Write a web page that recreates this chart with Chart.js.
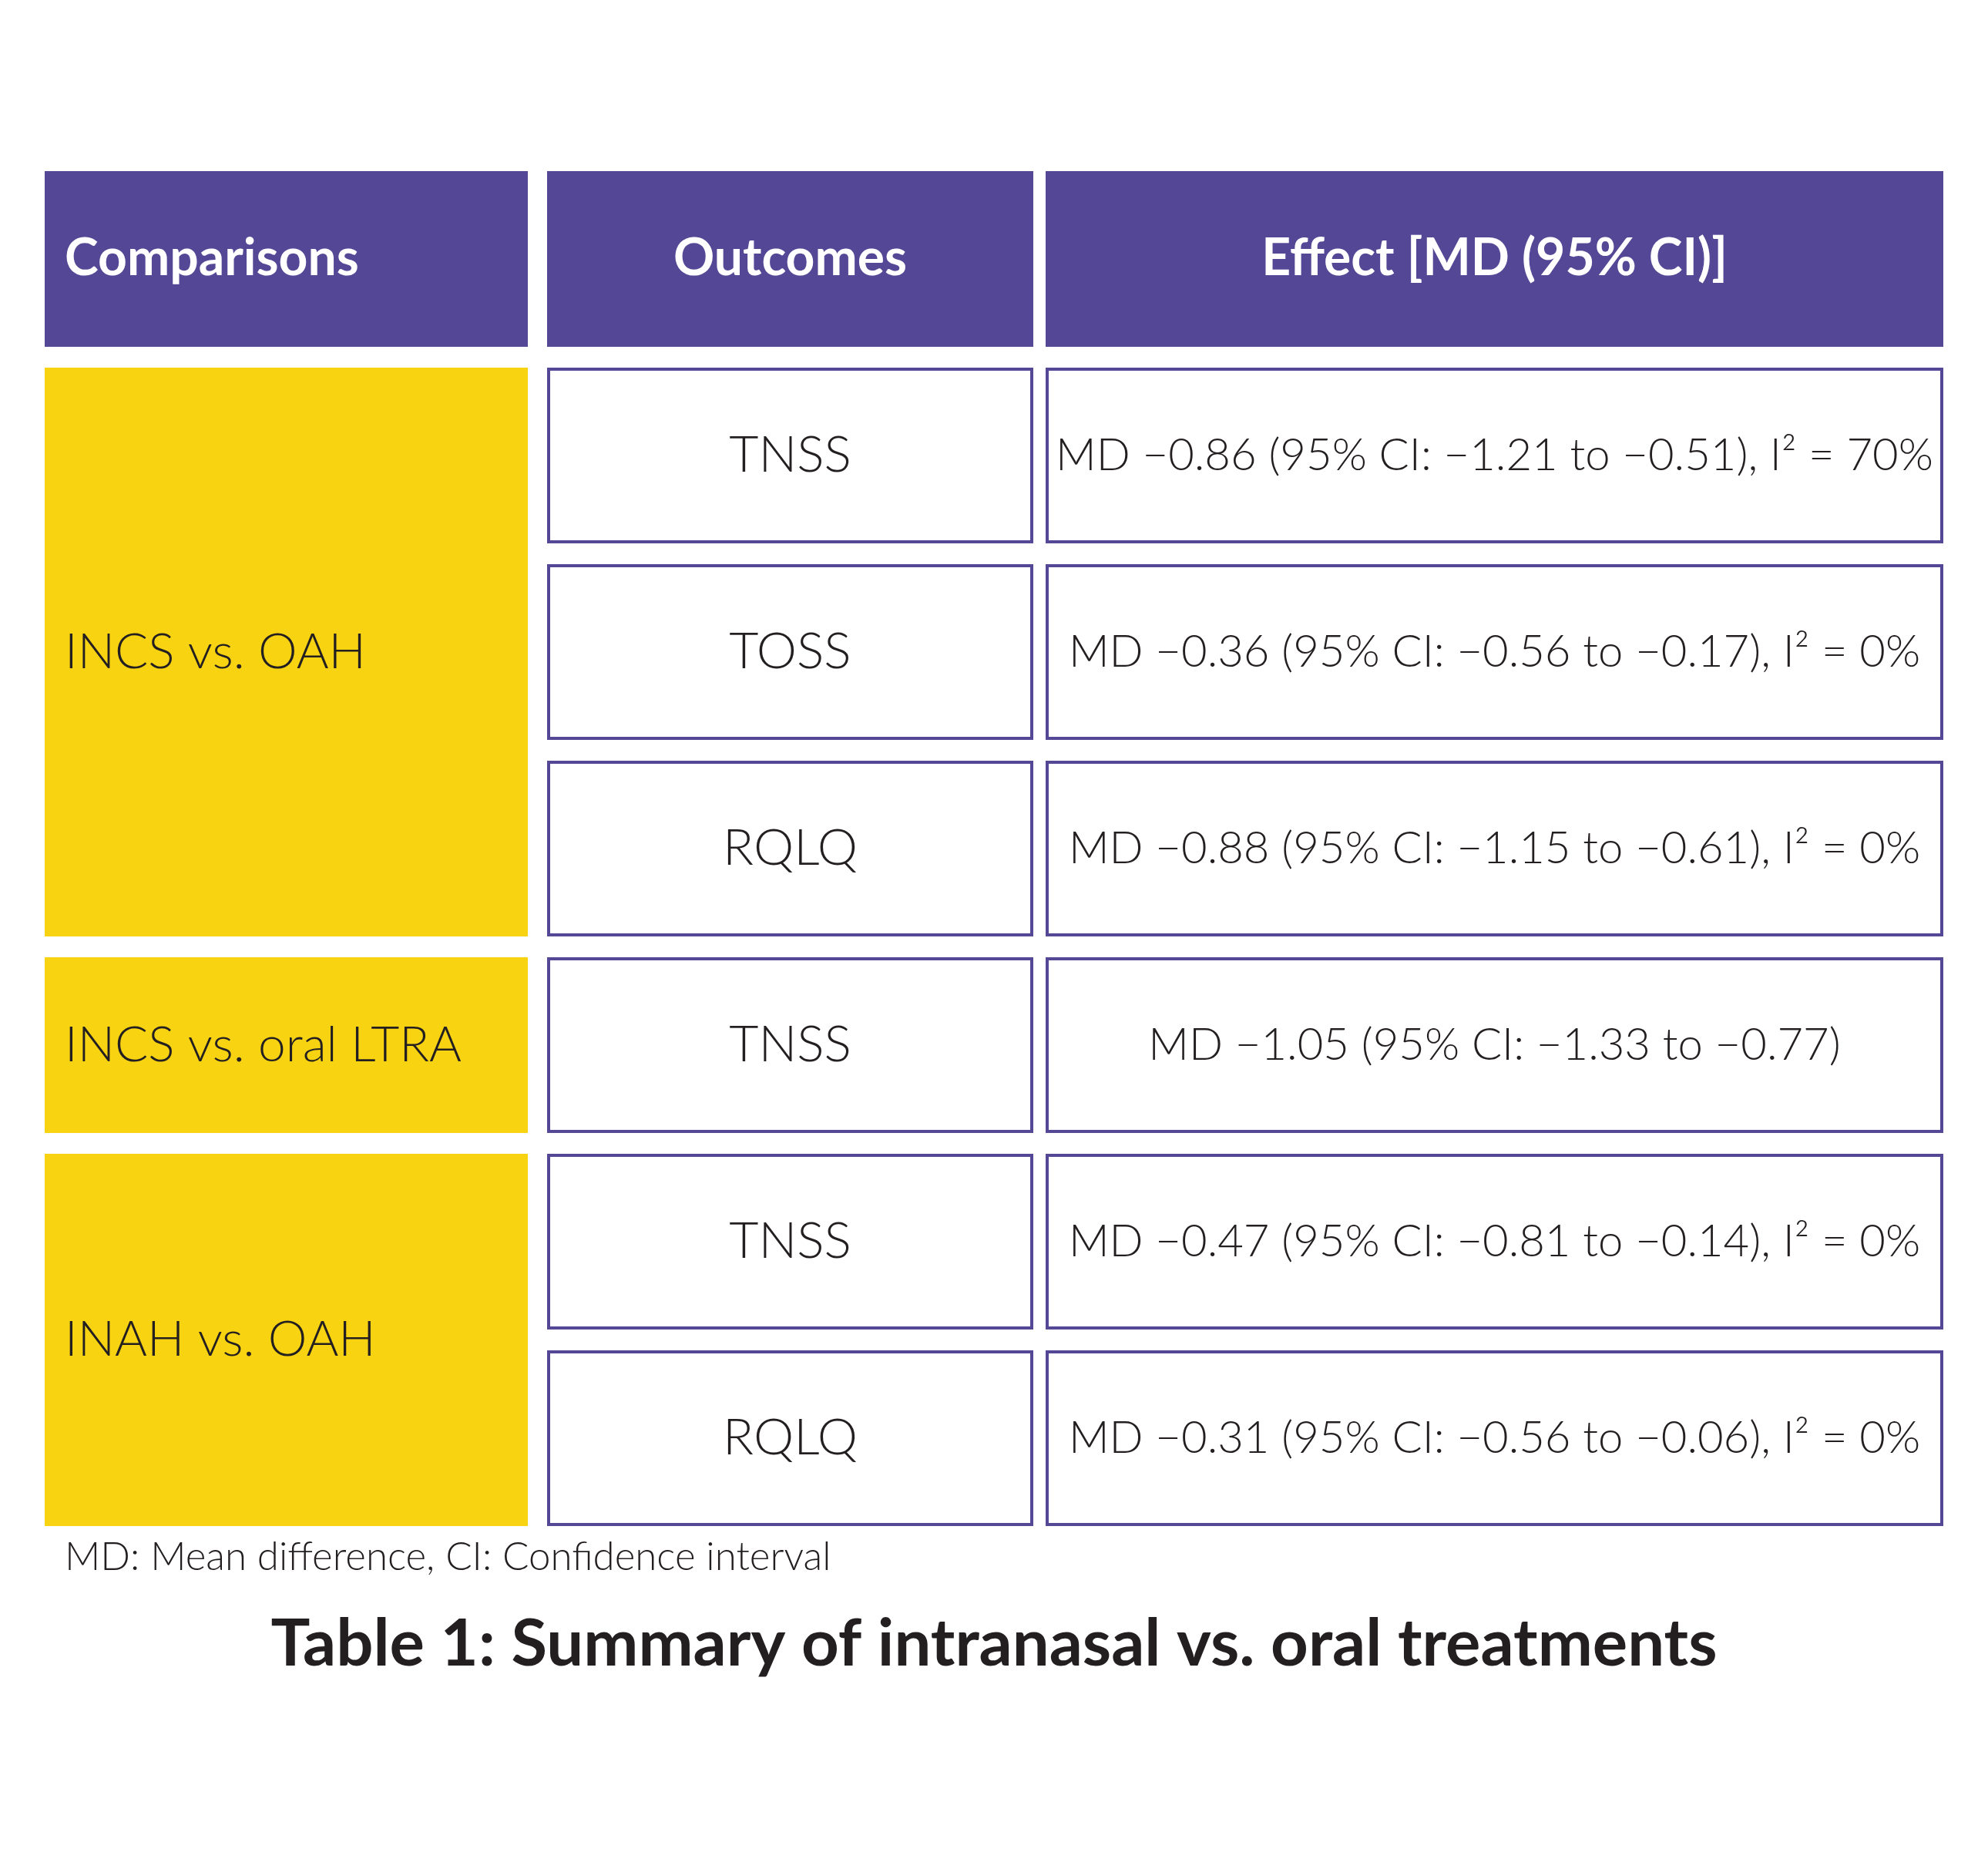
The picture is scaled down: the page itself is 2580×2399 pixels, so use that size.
<!DOCTYPE html>
<html>
<head>
<meta charset="utf-8">
<script src="https://cdn.jsdelivr.net/npm/chart.js@4.4.1/dist/chart.umd.min.js"></script>
<style>
  html, body { margin: 0; padding: 0; background: #ffffff; }
  #wrap { width: 2580px; height: 2399px; }
</style>
</head>
<body>
<div id="wrap"><canvas id="table-chart" width="2580" height="2399"></canvas></div>
<script>
// table content
const headers = ["Comparisons", "Outcomes", "Effect [MD (95% CI)]"];
const comparisons = ["INCS vs. OAH", "INCS vs. oral LTRA", "INAH vs. OAH"];
const comparisonRowSpans = [3, 1, 2];
const outcomes = ["TNSS", "TOSS", "RQLQ", "TNSS", "TNSS", "RQLQ"];
const effects = [
  "MD \u22120.86 (95% CI: \u22121.21 to \u22120.51), I\u00b2 = 70%",
  "MD \u22120.36 (95% CI: \u22120.56 to \u22120.17), I\u00b2 = 0%",
  "MD \u22120.88 (95% CI: \u22121.15 to \u22120.61), I\u00b2 = 0%",
  "MD \u22121.05 (95% CI: \u22121.33 to \u22120.77)",
  "MD \u22120.47 (95% CI: \u22120.81 to \u22120.14), I\u00b2 = 0%",
  "MD \u22120.31 (95% CI: \u22120.56 to \u22120.06), I\u00b2 = 0%",
];
const footnote = "MD: Mean difference, CI: Confidence interval";
const caption = "Table 1: Summary of intranasal vs. oral treatments";

// layout (in table units along the x scale, row units along the y scale)
const colSpans = [[0, 627], [652, 1283], [1299, 2464]];
const cellHeight = 0.894; // fraction of a row pitch
const PURPLE = "#544795";
const YELLOW = "#f8d312";
const TEXT = "#231f20";
const FONT = "Lato, 'Open Sans', sans-serif";

const tablePlugin = {
  id: "tablePlugin",
  afterDraw(chart) {
    const ctx = chart.ctx;
    const x = chart.scales.x;
    const y = chart.scales.y;
    const px = (v) => x.getPixelForValue(v);
    const py = (v) => y.getPixelForValue(v);

    ctx.save();
    ctx.textBaseline = "middle";

    // header row (row -1)
    headers.forEach(function (h, i) {
      let x0 = px(colSpans[i][0]), x1 = px(colSpans[i][1]);
      let y0 = py(-1), y1 = py(-1 + cellHeight);
      ctx.fillStyle = PURPLE;
      ctx.fillRect(x0, y0, x1 - x0, y1 - y0);
      ctx.fillStyle = "#ffffff";
      ctx.font = "bold 66px " + FONT;
      if (i == 0) {
        ctx.textAlign = "left";
        ctx.fillText(h, x0 + 26, (y0 + y1) / 2);
      } else {
        ctx.textAlign = "center";
        ctx.fillText(h, (x0 + x1) / 2, (y0 + y1) / 2);
      }
    });

    // comparison cells (merged rows)
    let row = 0;
    comparisons.forEach(function (c, i) {
      let span = comparisonRowSpans[i];
      let x0 = px(colSpans[0][0]), x1 = px(colSpans[0][1]);
      let y0 = py(row), y1 = py(row + span - 1 + cellHeight);
      ctx.fillStyle = YELLOW;
      ctx.fillRect(x0, y0, x1 - x0, y1 - y0);
      ctx.fillStyle = TEXT;
      ctx.font = "300 64px " + FONT;
      ctx.textAlign = "left";
      ctx.fillText(c, x0 + 26, (y0 + y1) / 2);
      row += span;
    });

    // outcome + effect cells
    outcomes.forEach(function (o, r) {
      [o, effects[r]].forEach(function (txt, k) {
        let span = colSpans[k + 1];
        let x0 = px(span[0]), x1 = px(span[1]);
        let y0 = py(r), y1 = py(r + cellHeight);
        ctx.fillStyle = "#ffffff";
        ctx.fillRect(x0, y0, x1 - x0, y1 - y0);
        ctx.strokeStyle = PURPLE;
        ctx.lineWidth = 4;
        ctx.strokeRect(x0 + 2, y0 + 2, x1 - x0 - 4, y1 - y0 - 4);
        ctx.fillStyle = TEXT;
        ctx.font = (k == 0 ? "300 66px " : "300 58px ") + FONT;
        ctx.textAlign = "center";
        ctx.fillText(txt, (x0 + x1) / 2, (y0 + y1) / 2);
      });
    });

    // footnote and caption
    let bottom = py(outcomes.length - 1 + cellHeight);
    ctx.textBaseline = "alphabetic";
    ctx.fillStyle = TEXT;
    ctx.font = "300 51px " + FONT;
    ctx.textAlign = "left";
    ctx.fillText(footnote, px(0) + 26, bottom + 57);
    ctx.font = "bold 85px " + FONT;
    ctx.textAlign = "center";
    ctx.fillText(caption, chart.width / 2, bottom + 181);
    ctx.restore();
  },
};

new Chart(document.getElementById("table-chart"), {
  type: "scatter",
  data: { datasets: [{ data: [], pointRadius: 0 }] },
  options: {
    responsive: false,
    animation: false,
    devicePixelRatio: 1,
    layout: { padding: { left: 58, right: 58, top: 222, bottom: 392 } },
    plugins: { legend: { display: false }, tooltip: { enabled: false } },
    scales: {
      x: { type: "linear", min: 0, max: 2464, display: false },
      y: { type: "linear", min: -1, max: 6, reverse: true, display: false },
    },
  },
  plugins: [tablePlugin],
});
</script>
</body>
</html>
